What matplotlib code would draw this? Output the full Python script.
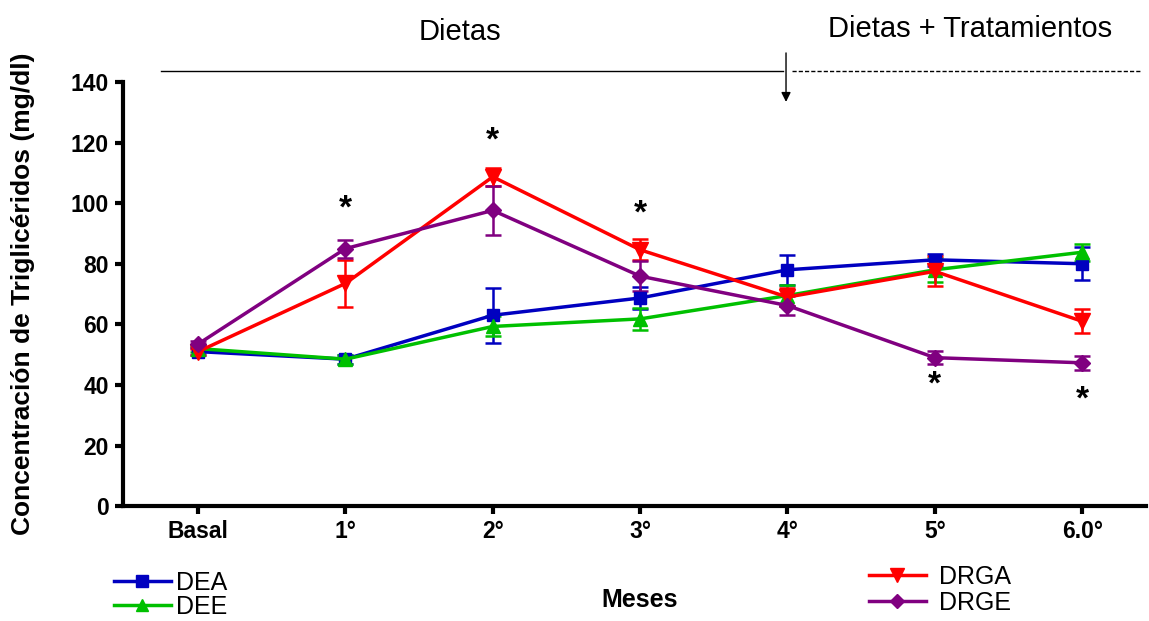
import numpy as np
import matplotlib.pyplot as plt
from matplotlib.lines import Line2D

plt.rcParams['font.family'] = ['Liberation Sans', 'DejaVu Sans']

meses = ['Basal', '1°', '2°', '3°', '4°', '5°', '6.0°']

dea = [51, 48.5, 63, 68.7, 78, 81.3, 80]
dea_err = [1.2, 1.5, 9, 3.5, 5, 2, 5.5]
dee = [52, 48.5, 59.3, 61.8, 69.5, 78, 83.8]
dee_err = [1.0, 1.5, 3.3, 3.6, 3.5, 4, 2.8]
drga = [51, 73.5, 108.7, 84.6, 69, 77.5, 61]
drga_err = [1.0, 7.7, 3, 3.5, 3, 5, 4]
drge = [53.5, 85, 97.6, 75.9, 66.2, 49, 47.3]
drge_err = [1.0, 3, 8, 5, 3, 2.2, 2.4]

# asterisks: (month index, height)
sig_x = [1, 2, 3, 5, 6]
sig_y = [98, 120.5, 96.5, 40, 35]

x = np.arange(len(meses))

fig = plt.figure(figsize=(11.49, 6.21), dpi=100)
ax = fig.add_axes([0.107, 0.185, 0.890, 0.683])

series = [
    ('DEA', dea, dea_err, '#0000c0', 's', 9),
    ('DEE', dee, dee_err, '#00c000', '^', 10),
    ('DRGA', drga, drga_err, '#ff0000', 'v', 11),
    ('DRGE', drge, drge_err, '#800080', 'D', 8),
]
handles = {}
for name, y, e, c, m, ms in series:
    ax.errorbar(x, y, yerr=e, color=c, marker=m, markersize=ms, lw=2.5,
                elinewidth=1.8, capsize=5.5, capthick=1.8, label=name)
    handles[name] = Line2D([], [], color=c, marker=m, markersize=ms - 1, lw=2.5)

for sx, sy in zip(sig_x, sig_y):
    ax.text(sx, sy, '*', ha='center', va='center', fontsize=24, fontweight='bold')

ax.set_xlim(-0.51, 6.43)
ax.set_ylim(0, 140)
ax.set_yticks(range(0, 141, 20))
ax.set_xticks(x)
ax.set_xticklabels(meses)
for lab in ax.get_xticklabels() + ax.get_yticklabels():
    lab.set_fontweight('bold')
    lab.set_fontsize(16.5)
ax.spines['top'].set_visible(False)
ax.spines['right'].set_visible(False)
ax.spines['left'].set_linewidth(3)
ax.spines['bottom'].set_linewidth(3)
ax.tick_params(width=3, length=6, pad=4)

ax.set_ylabel('Concentración de Triglicéridos (mg/dl)', fontsize=19,
              fontweight='bold', labelpad=26)
fig.text(640 / 1149, 1 - 600 / 621, 'Meses', ha='center', va='center',
         fontsize=18, fontweight='bold')

# period markers above the plot
ax.plot([-0.25, 3.97], [143.6, 143.6], color='black', lw=1, clip_on=False)
ax.plot([4.03, 6.4], [143.6, 143.6], color='black', lw=1, ls=(0, (3, 1.5)), clip_on=False)
ax.annotate('', xy=(3.99, 132.5), xytext=(3.99, 150.5),
            arrowprops=dict(arrowstyle='-|>', color='black', lw=1, mutation_scale=14),
            annotation_clip=False)
ax.text(1.78, 152, 'Dietas', ha='center', va='bottom', fontsize=21, clip_on=False)
ax.text(5.24, 153, 'Dietas + Tratamientos', ha='center', va='bottom', fontsize=21, clip_on=False)

leg1 = fig.legend([handles['DEA'], handles['DEE']], ['DEA', 'DEE'],
                  loc='center left', bbox_to_anchor=(0.088, 0.042), frameon=False,
                  fontsize=18, handlelength=2.3, handletextpad=0.2, labelspacing=0.0,
                  borderpad=0)
leg2 = fig.legend([handles['DRGA'], handles['DRGE']], ['DRGA', 'DRGE'],
                  loc='center left', bbox_to_anchor=(0.745, 0.05), frameon=False,
                  fontsize=18, handlelength=2.3, handletextpad=0.5, labelspacing=0.1,
                  borderpad=0)

fig.savefig('out.png', dpi=100)
